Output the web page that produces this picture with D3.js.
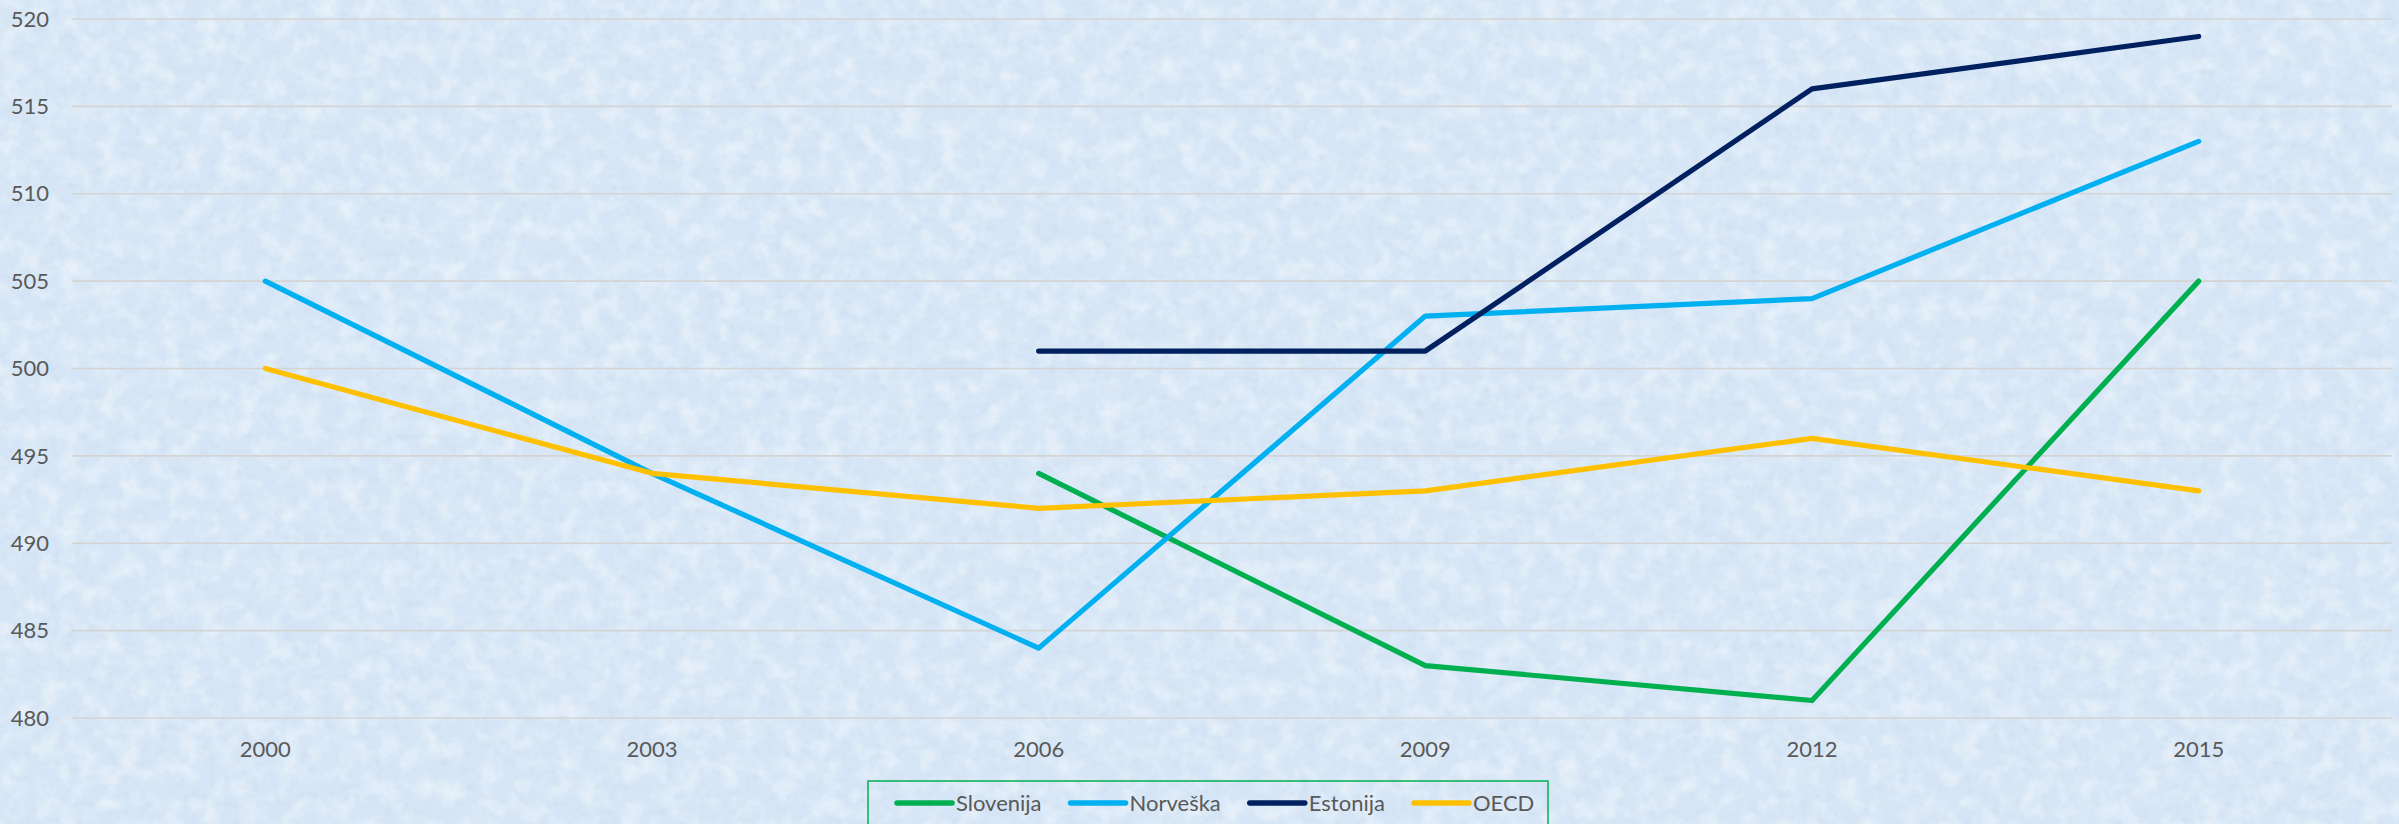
<!DOCTYPE html>
<meta charset="utf-8">
<head>
  <style>
    body { margin: 0; overflow: hidden; }
    .grid line { stroke: #d4d4d4; stroke-width: 1.6px; }
    .lbl { font-family: Lato, "Open Sans", sans-serif; font-size: 22px; fill: #595959; }
    .series { fill: none; stroke-width: 5.2px; stroke-linecap: round; stroke-linejoin: round; }
  </style>
</head>
<body>
  <script src="https://d3js.org/d3.v7.min.js"></script>
  <div id="chart"></div>
  <script>
    var width = 2399,
      height = 824;

    var years = ["2000", "2003", "2006", "2009", "2012", "2015"];
    var yTicks = [480, 485, 490, 495, 500, 505, 510, 515, 520];
    var names = ["Slovenija", "Norveška", "Estonija", "OECD"];
    var colors = ["#00b050", "#00b0f0", "#002060", "#ffc000"];
    // null = no value that year
    var slovenija = [null, null, 494, 483, 481, 505];
    var norveska = [505, 494, 484, 503, 504, 513];
    var estonija = [null, null, 501, 501, 516, 519];
    var oecd = [500, 494, 492, 493, 496, 493];
    var series = [slovenija, norveska, estonija, oecd];

    var svg = d3.select('#chart')
      .append('svg')
      .attr('width', width)
      .attr('height', height);

    // textured light blue background (tissue paper look)
    var defs = svg.append('defs');
    var f = defs.append('filter').attr('id', 'tex')
      .attr('x', 0).attr('y', 0).attr('width', '100%').attr('height', '100%');
    f.append('feTurbulence').attr('type', 'fractalNoise')
      .attr('baseFrequency', 0.05).attr('numOctaves', 4).attr('seed', 7);
    f.append('feColorMatrix').attr('type', 'matrix')
      .attr('values', '0 0 0 0 1  0 0 0 0 1  0 0 0 0 1  1.8 0 0 0 -0.75');
    var g2 = defs.append('filter').attr('id', 'tex2')
      .attr('x', 0).attr('y', 0).attr('width', '100%').attr('height', '100%');
    g2.append('feTurbulence').attr('type', 'fractalNoise')
      .attr('baseFrequency', 0.12).attr('numOctaves', 2).attr('seed', 3);
    g2.append('feColorMatrix').attr('type', 'matrix')
      .attr('values', '0 0 0 0 0.6  0 0 0 0 0.68  0 0 0 0 0.8  0 1.8 0 0 -0.85');
    svg.append('rect').attr('width', width).attr('height', height).attr('fill', '#d6e6f6');
    svg.append('rect').attr('width', width).attr('height', height)
      .attr('filter', 'url(#tex2)').attr('opacity', 0.5);
    svg.append('rect').attr('width', width).attr('height', height)
      .attr('filter', 'url(#tex)').attr('opacity', 0.55);

    var x = d3.scaleBand().domain(years).range([72, 2392]);
    var y = d3.scaleLinear().domain([480, 520]).range([718, 19]);

    svg.append('g').attr('class', 'grid')
      .selectAll('line').data(yTicks).enter().append('line')
      .attr('x1', 72).attr('x2', 2392)
      .attr('y1', d => y(d)).attr('y2', d => y(d));

    svg.append('g').selectAll('text').data(yTicks).enter().append('text')
      .attr('class', 'lbl')
      .attr('x', 49).attr('y', d => y(d))
      .attr('dy', '0.35em')
      .attr('text-anchor', 'end')
      .text(d => d);

    svg.append('g').selectAll('text').data(years).enter().append('text')
      .attr('class', 'lbl')
      .attr('x', d => x(d) + x.bandwidth() / 2).attr('y', 749)
      .attr('dy', '0.35em')
      .attr('text-anchor', 'middle')
      .text(d => d);

    var line = d3.line()
      .defined(d => d != null)
      .x((d, i) => x(years[i]) + x.bandwidth() / 2)
      .y(d => y(d));

    svg.append('g').selectAll('path').data(series).enter().append('path')
      .attr('class', 'series')
      .attr('stroke', (d, i) => colors[i])
      .attr('d', line);

    // legend
    var lg = svg.append('g');
    lg.append('rect')
      .attr('x', 868).attr('y', 781).attr('width', 680).attr('height', 60)
      .attr('fill', 'none').attr('stroke', '#00b050').attr('stroke-width', 1.5);
    var lx = 897;
    names.forEach(function (n, i) {
      lg.append('line')
        .attr('x1', lx).attr('x2', lx + 55)
        .attr('y1', 803).attr('y2', 803)
        .attr('stroke', colors[i]).attr('stroke-width', 5.5).attr('stroke-linecap', 'round');
      var t = lg.append('text').attr('class', 'lbl')
        .attr('x', lx + 59).attr('y', 803).attr('dy', '0.35em')
        .text(n);
      lx += 59 + t.node().getComputedTextLength() + 29;
    });
  </script>
</body>
